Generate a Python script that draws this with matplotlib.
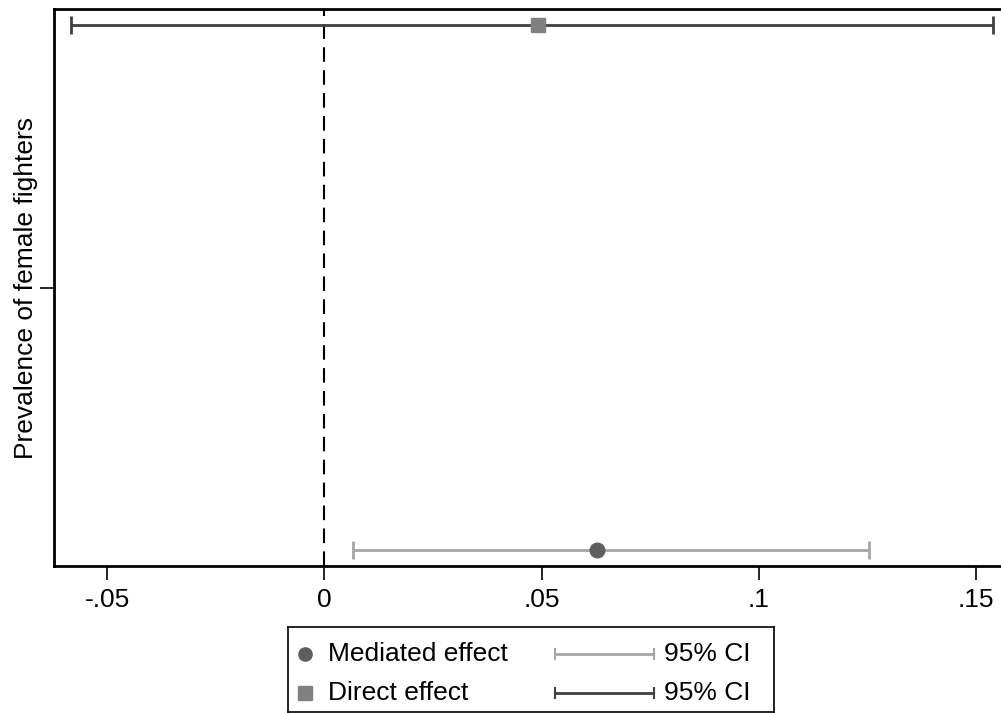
import numpy as np
import matplotlib.pyplot as plt

# mediation estimates
effects = ['Mediated effect', 'Direct effect']
estimates = [0.0628, 0.0493]
ci_low = [0.0065, -0.0583]
ci_high = [0.1253, 0.1538]
rows = [1, 2]

xticks = [-0.05, 0, 0.05, 0.1, 0.15]
xtick_labels = ['-.05', '0', '.05', '.1', '.15']
ylabel = 'Prevalence of female fighters'

markers = ['o', 's']
marker_colors = ['#5e5e5e', '#808080']
ci_colors = ['#a6a6a6', '#404040']

plt.rcParams['font.family'] = ['Liberation Sans', 'DejaVu Sans']
fs = 19

W, H = 1001, 713
fig = plt.figure(figsize=(W / 100, H / 100), dpi=100)

xmin, xmax = -0.0622, 0.16
px_per_unit = 217.25 / 0.05
ax_w = (xmax - xmin) * px_per_unit
ax = fig.add_axes([54 / W, (H - 566) / H, ax_w / W, (566 - 9) / H])

for i in range(len(effects)):
    err = [[estimates[i] - ci_low[i]], [ci_high[i] - estimates[i]]]
    ax.errorbar([estimates[i]], [rows[i]], xerr=err, fmt='none',
                ecolor=ci_colors[i], elinewidth=2, capsize=6.5, capthick=2, zorder=2)
    ax.plot(estimates[i], rows[i], marker=markers[i], markersize=10.5,
            color=marker_colors[i], linestyle='none', zorder=3)

ax.axvline(0, color='black', linestyle=(0, (7, 4)), linewidth=1.5, zorder=1)

ax.set_xlim(xmin, xmax)
ax.set_ylim(0.9695, 2.0305)
ax.set_xticks(xticks)
ax.set_xticklabels(xtick_labels, fontsize=fs)
ax.set_yticks([1.5])
ax.set_yticklabels([ylabel], rotation=90, va='center', fontsize=fs)
ax.tick_params(axis='both', direction='out', length=10, width=1.2, pad=6)
ax.tick_params(axis='y', pad=1.5)
for s in ax.spines.values():
    s.set_linewidth(2)

# legend box drawn by hand (two rows, marker + CI sample)
lg = fig.add_axes([288 / W, 1 / H, (774 - 288) / W, (712 - 627) / H])
lg.set_xlim(0, 486)
lg.set_ylim(85, 0)
lg.set_xticks([])
lg.set_yticks([])
for s in lg.spines.values():
    s.set_linewidth(1.2)
row_y = [27, 66]
for i in range(len(effects)):
    lg.plot(17, row_y[i], marker=markers[i], markersize=9.5,
            color=marker_colors[i], linestyle='none')
    lg.text(40, row_y[i], effects[i], fontsize=fs, va='center', ha='left')
    lg.errorbar([316.5], [row_y[i]], xerr=[[49.5], [49.5]], fmt='none',
                ecolor=ci_colors[i], elinewidth=2, capsize=4.5, capthick=1.5)
    lg.text(376, row_y[i], '95% CI', fontsize=fs, va='center', ha='left')

fig.savefig('out.png', dpi=100)
